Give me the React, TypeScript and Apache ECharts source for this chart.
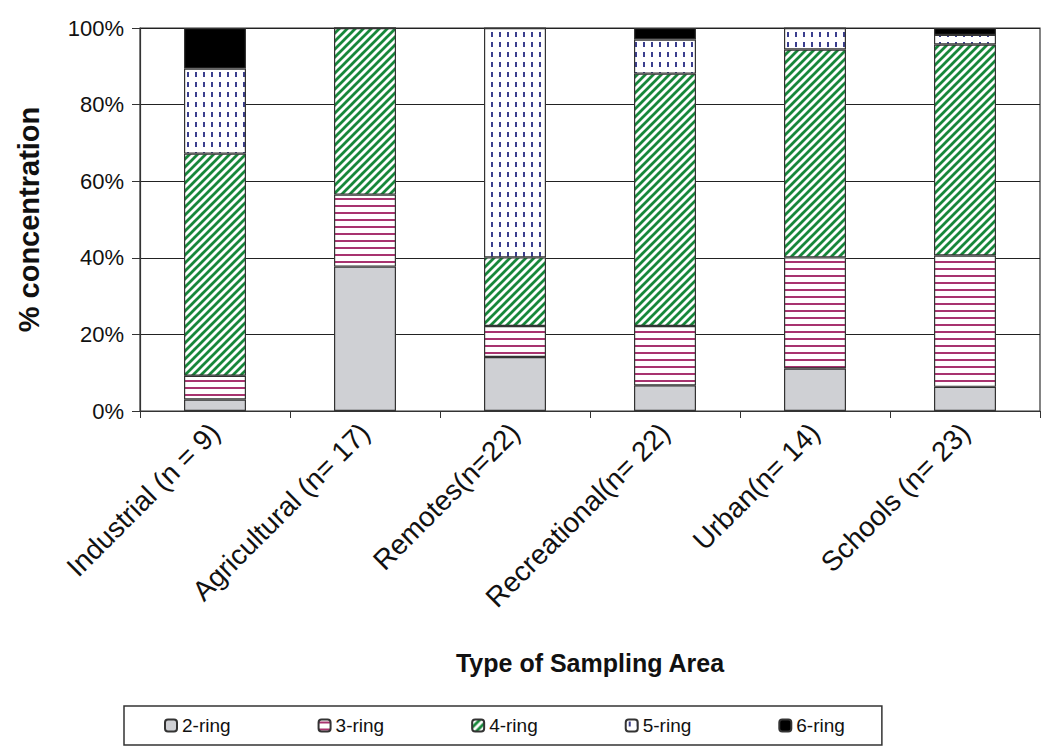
import React, { useEffect, useRef } from "react";
import * as echarts from "echarts";

const categories = [
  "Industrial (n = 9)",
  "Agricultural (n= 17)",
  "Remotes(n=22)",
  "Recreational(n= 22)",
  "Urban(n= 14)",
  "Schools (n= 23)",
];
const seriesNames = ["2-ring", "3-ring", "4-ring", "5-ring", "6-ring"];
const ring2 = [3.0, 37.7, 14.1, 6.7, 11.1, 6.3];
const ring3 = [6.2, 18.8, 8.1, 15.5, 29.0, 34.3];
const ring4 = [58.0, 43.5, 17.9, 65.9, 54.3, 55.1];
const ring5 = [22.2, 0, 59.9, 8.9, 5.6, 2.5];
const ring6 = [10.6, 0, 0, 3.0, 0, 1.8];
const yTicks = [0, 20, 40, 60, 80, 100];

const FONT = 'Arial, "Liberation Sans", sans-serif';

function makeTile(w: number, h: number, draw: (c: CanvasRenderingContext2D) => void) {
  const cv = document.createElement("canvas");
  cv.width = w;
  cv.height = h;
  const ctx = cv.getContext("2d")!;
  ctx.fillStyle = "#ffffff";
  ctx.fillRect(0, 0, w, h);
  draw(ctx);
  return { image: cv.toDataURL(), repeat: "repeat", imageWidth: w, imageHeight: h } as any;
}

export default function App() {
  const ref = useRef<HTMLDivElement>(null);
  useEffect(() => {
    if (!ref.current) return;
    const chart = echarts.init(ref.current, undefined, { renderer: "svg" });

    const hLines = makeTile(8, 7, (c) => {
      c.fillStyle = "#a8336f";
      c.fillRect(0, 2, 8, 2);
    });
    const diag = makeTile(8, 8, (c) => {
      c.strokeStyle = "#17873a";
      c.lineWidth = 2.8;
      c.lineCap = "square";
      c.beginPath();
      c.moveTo(-1, 9);
      c.lineTo(9, -1);
      c.moveTo(-4, 4);
      c.lineTo(4, -4);
      c.moveTo(4, 12);
      c.lineTo(12, 4);
      c.stroke();
    });
    const dashes = makeTile(8, 10, (c) => {
      c.fillStyle = "#3b3f8e";
      c.fillRect(3, 2, 2, 5);
    });

    const colors: any[] = ["#cfd0d4", hLines, diag, dashes, "#000000"];
    const data = [ring2, ring3, ring4, ring5, ring6];

    chart.setOption({
      animation: false,
      backgroundColor: "#ffffff",
      grid: {
        left: 140,
        right: 10,
        top: 28,
        bottom: 341,
        show: true,
        borderColor: "#333",
        borderWidth: 1.2,
        backgroundColor: "#ffffff",
      },
      legend: {
        data: seriesNames,
        left: 124,
        top: 706,
        orient: "horizontal",
        itemWidth: 12,
        itemHeight: 12,
        itemGap: 87,
        padding: [10, 37, 10, 40],
        borderColor: "#333",
        borderWidth: 1.5,
        textStyle: { fontFamily: FONT, fontSize: 19, color: "#111" },
      },
      xAxis: {
        type: "category",
        data: categories,
        name: "Type of Sampling Area",
        nameLocation: "middle",
        nameGap: 239,
        nameTextStyle: { fontFamily: FONT, fontSize: 25, fontWeight: "bold", color: "#111" },
        axisLine: { lineStyle: { color: "#333", width: 1.2 } },
        axisTick: { show: true, length: 7, interval: 0, lineStyle: { color: "#333" } },
        axisLabel: {
          interval: 0,
          rotate: 45,
          fontFamily: FONT,
          fontSize: 28,
          color: "#111",
          margin: 17,
        },
      },
      yAxis: {
        type: "value",
        min: 0,
        max: 100,
        interval: 20,
        name: "% concentration",
        nameLocation: "middle",
        nameGap: 97,
        nameTextStyle: { fontFamily: FONT, fontSize: 29, fontWeight: "bold", color: "#111" },
        axisLine: { show: true, lineStyle: { color: "#333", width: 1.2 } },
        axisTick: { show: true, length: 8, lineStyle: { color: "#333" } },
        axisLabel: {
          formatter: (v: number) => (yTicks.includes(v) ? v + "%" : ""),
          fontFamily: FONT,
          fontSize: 22,
          color: "#111",
          margin: 16,
        },
        splitLine: { show: true, lineStyle: { color: "#222", width: 1.2 } },
      },
      series: seriesNames.map((n, i) => ({
        name: n,
        type: "bar",
        stack: "total",
        barWidth: 62,
        data: data[i],
        itemStyle: { color: colors[i], borderColor: "#333", borderWidth: 1.2 },
      })),
    });
    return () => chart.dispose();
  }, []);
  return (
    <div
      ref={ref}
      style={{ position: "fixed", left: 0, top: 0, width: 1050, height: 752, background: "#fff" }}
    />
  );
}
